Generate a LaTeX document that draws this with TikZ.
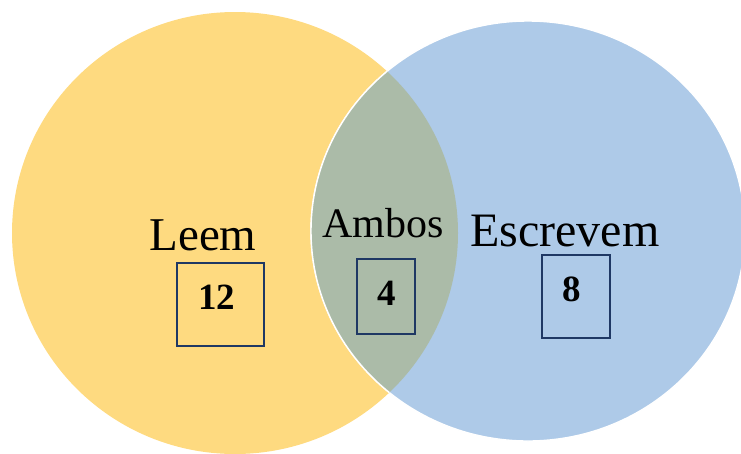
\documentclass[tikz,border=0pt]{standalone}
\usepackage{fontspec}
\setmainfont{Liberation Serif}
\definecolor{yellowc}{RGB}{254,218,128}
\definecolor{bluec}{RGB}{174,202,232}
\definecolor{lensc}{RGB}{171,187,168}
\definecolor{boxc}{RGB}{31,56,100}
\tikzset{
  setlabel/.style={anchor=base, inner sep=0pt, text=black},
  numbox/.style={draw=boxc, line width=1.3pt, inner sep=0pt},
  numtext/.style={anchor=base, inner sep=0pt, font=\fontsize{37}{44}\selectfont\bfseries}
}
\begin{document}
\begin{tikzpicture}[x=1pt,y=-1pt]
\useasboundingbox (0,0) rectangle (741,453);
\begin{scope}
\clip (0,0) rectangle (741,453);
% Leem circle
\fill[yellowc] (235,233) ellipse [x radius=223, y radius=221];
% Escrevem circle
\filldraw[fill=bluec, draw=white, line width=1.4pt] (528,231) ellipse [x radius=217, y radius=210];
% intersection
\begin{scope}
\clip (235,233) ellipse [x radius=223, y radius=221];
\filldraw[fill=lensc, draw=white, line width=1.4pt] (528,231) ellipse [x radius=217, y radius=210];
\end{scope}
\end{scope}
% labels
\node[setlabel, font=\fontsize{47}{56}\selectfont] (leem) at (203,250) {Leem};
\node[setlabel, font=\fontsize{42}{50}\selectfont] (ambos) at (383,237) {Ambos};
\node[setlabel, font=\fontsize{48}{57}\selectfont] (escrevem) at (565,246) {Escrevem};
% boxes
\node[numbox, minimum width=87pt, minimum height=83pt] (box12) at (220.5,304.5) {};
\node[numbox, minimum width=58pt, minimum height=75pt] (box4) at (386,296.5) {};
\node[numbox, minimum width=68pt, minimum height=83pt] (box8) at (576,296.5) {};
\node[numtext] (n12) at (216.5,309) {12};
\node[numtext] (n4) at (387,305) {4};
\node[numtext] (n8) at (571.5,301) {8};
\end{tikzpicture}
\end{document}
